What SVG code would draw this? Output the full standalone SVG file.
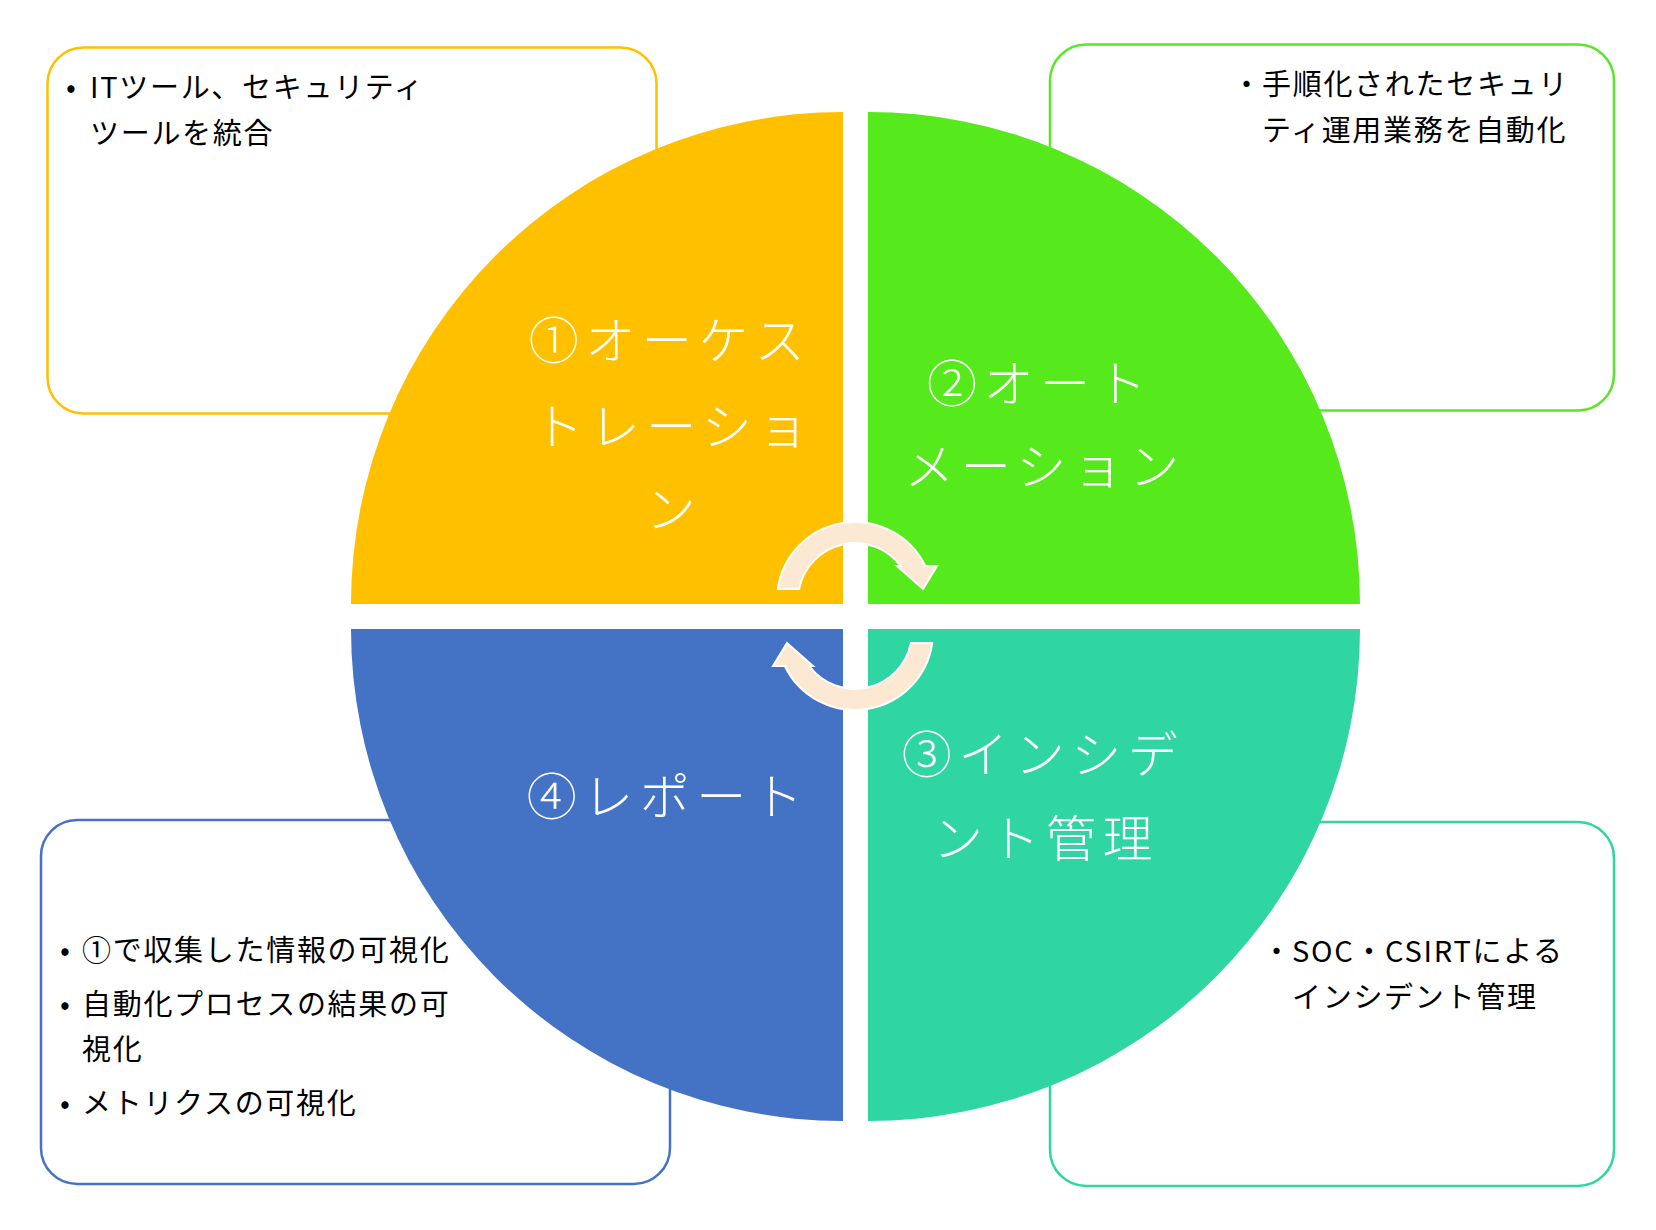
<svg xmlns="http://www.w3.org/2000/svg" xmlns:xlink="http://www.w3.org/1999/xlink" width="1656" height="1230" viewBox="0 0 1656 1230">
<style>
.box{fill:#ffffff;stroke-width:2.5}
.lbl{font-family:"Noto Sans CJK JP","Noto Sans CJK SC",sans-serif;font-weight:300;fill:#ffffff;font-size:50px;letter-spacing:6.5px;text-anchor:middle}
.txt{font-family:"Noto Sans CJK JP","Noto Sans CJK SC",sans-serif;font-size:29px;fill:#000000;letter-spacing:1.7px}
.arrow{fill:#FDE9D3;stroke:#ffffff;stroke-width:2}
</style>
<defs>
<path id="carrow" d="M 777.8,589 A 78,78 0 0 1 925.2,566 L 937,566 L 923,589 L 897,566 L 900.7,566 A 57,57 0 0 0 799.1,589 Z"/>
</defs>
<rect width="1656" height="1230" fill="#ffffff"/>

<g id="box-orchestration">
<rect class="box" x="47.5" y="47.5" width="609" height="366" rx="36" stroke="#FFC000"/>
<text class="txt" x="66" y="98">•</text>
<text class="txt" x="90" y="98">ITツール、セキュリティ</text>
<text class="txt" x="90" y="144">ツールを統合</text>
</g>

<g id="box-automation">
<rect class="box" x="1050" y="44.5" width="564" height="366" rx="36" stroke="#5BE52A"/>
<text class="txt" x="1232" y="95">・</text>
<text class="txt" x="1262" y="95">手順化されたセキュリ</text>
<text class="txt" x="1262" y="141">ティ運用業務を自動化</text>
</g>

<g id="box-report">
<rect class="box" x="41" y="820" width="629" height="364" rx="36" stroke="#4472C4"/>
<text class="txt" x="60" y="961">•</text>
<text class="txt" x="82" y="961">①で収集した情報の可視化</text>
<text class="txt" x="60" y="1015">•</text>
<text class="txt" x="82" y="1015">自動化プロセスの結果の可</text>
<text class="txt" x="82" y="1060">視化</text>
<text class="txt" x="60" y="1114">•</text>
<text class="txt" x="82" y="1114">メトリクスの可視化</text>
</g>

<g id="box-incident">
<rect class="box" x="1050" y="822" width="564" height="364" rx="36" stroke="#2ED6A0"/>
<text class="txt" x="1262" y="962">・</text>
<text class="txt" x="1292" y="962">SOC・CSIRTによる</text>
<text class="txt" x="1292" y="1008">インシデント管理</text>
</g>

<g id="q-orchestration">
<path d="M 843,604 L 351,604 A 492,492 0 0 1 843,112 Z" fill="#FFC000"/>
<text class="lbl"><tspan x="670" y="359">①オーケス</tspan><tspan x="674" y="445">トレーショ</tspan><tspan x="674" y="528">ン</tspan></text>
</g>

<g id="q-automation">
<path d="M 868,604 L 868,112 A 492,492 0 0 1 1360,604 Z" fill="#56EA1C"/>
<text class="lbl"><tspan x="1040" y="402">②オート</tspan><tspan x="1045" y="485">メーション</tspan></text>
</g>

<g id="q-incident">
<path d="M 868,629 L 1360,629 A 492,492 0 0 1 868,1121 Z" fill="#30D6A2"/>
<text class="lbl"><tspan x="1043" y="773">③インシデ</tspan><tspan x="1046" y="857">ント管理</tspan></text>
</g>

<g id="q-report">
<path d="M 843,629 L 843,1121 A 492,492 0 0 1 351,629 Z" fill="#4472C4"/>
<text class="lbl" x="668" y="815">④レポート</text>
</g>

<g id="connectors">
<use xlink:href="#carrow" href="#carrow" class="arrow"/>
<use xlink:href="#carrow" href="#carrow" class="arrow" transform="rotate(180 855 616)"/>
</g>
</svg>
